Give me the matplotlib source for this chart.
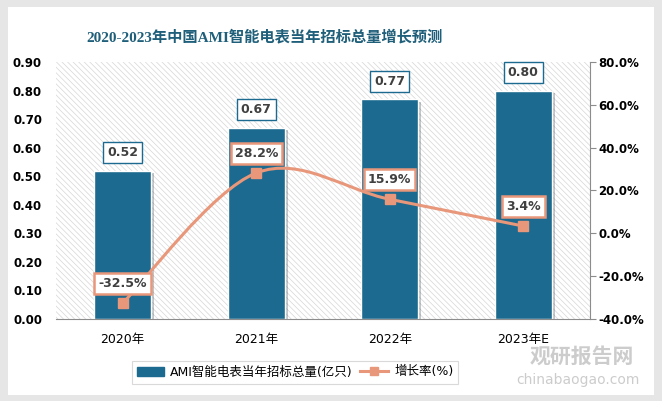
import numpy as np
import matplotlib
matplotlib.use("Agg")
import matplotlib.pyplot as plt
from matplotlib.patches import Rectangle, Patch, PathPatch
from matplotlib.lines import Line2D
from matplotlib.path import Path
import matplotlib.patheffects as pe
from matplotlib.ticker import FuncFormatter

plt.rcParams['font.family'] = ['DejaVu Sans', 'Noto Sans CJK SC']
plt.rcParams['hatch.linewidth'] = 0.5

categories = ["2020年", "2021年", "2022年", "2023年E"]
volume = [0.52, 0.67, 0.77, 0.80]
growth = [-32.5, 28.2, 15.9, 3.4]
volume_labels = ["0.52", "0.67", "0.77", "0.80"]
growth_labels = ["-32.5%", "28.2%", "15.9%", "3.4%"]
left_ticks = [0.0, 0.1, 0.2, 0.3, 0.4, 0.5, 0.6, 0.7, 0.8, 0.9]
right_ticks = [-40, -20, 0, 20, 40, 60, 80]

title = "2020-2023年中国AMI智能电表当年招标总量增长预测"
bar_name = "AMI智能电表当年招标总量(亿只)"
line_name = "增长率(%)"

BAR = "#1c6a8f"
LINE = "#e8977a"
TXT = "#404040"

fig = plt.figure(figsize=(6.62, 4.01), dpi=100)
fig.patch.set_facecolor("#e6e6e6")
fig.patches.append(Rectangle((8/662, 6/401), 646/662, 388/401, transform=fig.transFigure,
                             facecolor="white", edgecolor="none", zorder=-10))

ax = fig.add_axes([56/662, 1-319/401, 534/662, 257/401])
ax.set_facecolor("white")
ax.add_patch(Rectangle((0, 0), 1, 1, transform=ax.transAxes, facecolor="white",
                       edgecolor="#d6d6d6", hatch="\\\\\\\\\\\\", linewidth=0, zorder=0))

x = np.arange(len(categories))
bars = ax.bar(x, volume, width=0.43, color=BAR, edgecolor="white", linewidth=1.0, zorder=2)
for b in bars:
    b.set_path_effects([pe.SimplePatchShadow(offset=(2, -2), alpha=0.25), pe.Normal()])
ax.set_xlim(-0.5, len(categories) - 0.5)
ax.set_ylim(0, 0.9)
ax.set_yticks(left_ticks)
ax.yaxis.set_major_formatter(FuncFormatter(lambda v, p: f"{v:.2f}"))
ax.set_xticks(x)
ax.set_xticklabels(categories, fontsize=9, color="black")
ax.tick_params(axis="y", length=0, labelsize=8.5, labelcolor="black", pad=10)
ax.tick_params(axis="x", length=0, pad=10)
for lab in ax.get_yticklabels():
    lab.set_fontweight("bold")
for s in ["top", "left", "right"]:
    ax.spines[s].set_visible(False)
ax.spines["bottom"].set_color("#8c8c8c")

for xi, v, t in zip(x, volume, volume_labels):
    ax.annotate(t, (xi, v), xytext=(0, 13), textcoords="offset points", ha="center", va="center",
                fontsize=9, fontweight="bold", color=TXT, zorder=6,
                bbox=dict(boxstyle="square,pad=0.32", facecolor="white", edgecolor=BAR, linewidth=1))

ax2 = ax.twinx()
ax2.set_ylim(-40, 80)
ax2.set_yticks(right_ticks)
ax2.yaxis.set_major_formatter(FuncFormatter(lambda v, p: f"{v:.1f}%"))
ax2.tick_params(axis="y", length=4, color="#8c8c8c", labelsize=8.5, labelcolor="black", pad=2)
for lab in ax2.get_yticklabels():
    lab.set_fontweight("bold")
for s in ["top", "left", "bottom"]:
    ax2.spines[s].set_visible(False)
ax2.spines["right"].set_color("#8c8c8c")

# smooth curve (Bezier, computed in display space like spreadsheet smoothing)
fig.canvas.draw()
pts = ax2.transData.transform(np.column_stack([x, growth]))
verts = [pts[0]]
codes = [Path.MOVETO]
n = len(pts)
for i in range(n - 1):
    p0 = pts[max(i - 1, 0)]
    p1 = pts[i]
    p2 = pts[i + 1]
    p3 = pts[min(i + 2, n - 1)]
    c1 = p1 + (p2 - p0) / 6
    c2 = p2 - (p3 - p1) / 6
    verts += [c1, c2, p2]
    codes += [Path.CURVE4] * 3
dverts = ax2.transData.inverted().transform(np.array(verts))
curve = PathPatch(Path(dverts, codes), facecolor="none", edgecolor=LINE, linewidth=2.2, zorder=3,
                  transform=ax2.transData)
ax2.add_patch(curve)
ax2.plot(x, growth, linestyle="none", marker="s", markersize=6.5, color=LINE, zorder=4)
for xi, g, t in zip(x, growth, growth_labels):
    ax2.annotate(t, (xi, g), xytext=(0, 14), textcoords="offset points", ha="center", va="center",
                 fontsize=9, fontweight="bold", color=TXT, zorder=6,
                 bbox=dict(boxstyle="square,pad=0.32", facecolor="white", edgecolor=LINE, linewidth=1.8))

fig.text(265/662, 1-37/401, title, ha="center", va="center", fontsize=11, fontweight="bold",
         color="#1f5f7a", family=["Liberation Serif", "Noto Sans CJK SC"])

# watermark
fig.text(582/662, 1-356/401, "观研报告网", ha="center", va="center", fontsize=15, fontweight="bold",
         color="#9a9a9a", alpha=0.5, family=["Noto Sans CJK SC"], zorder=-5)
fig.text(578/662, 1-380/401, "chinabaogao.com", ha="center", va="center", fontsize=10,
         color="#9a9a9a", alpha=0.5, zorder=-5)

handles = [Patch(facecolor=BAR, edgecolor=BAR),
           Line2D([0], [0], color=LINE, linewidth=2.2, marker="s", markersize=6)]
leg = fig.legend(handles, [bar_name, line_name], loc="center", bbox_to_anchor=(295/662, 1-372/401),
                 ncol=2, fontsize=9, frameon=True, fancybox=False, edgecolor="#d0d0d0",
                 handlelength=2.2, columnspacing=0.6, handletextpad=0.5, borderpad=0.4)
leg.get_frame().set_linewidth(0.8)
for t in leg.get_texts():
    t.set_family(["DejaVu Sans", "Noto Sans CJK SC"])

fig.savefig("out.png", dpi=100, facecolor=fig.get_facecolor())
